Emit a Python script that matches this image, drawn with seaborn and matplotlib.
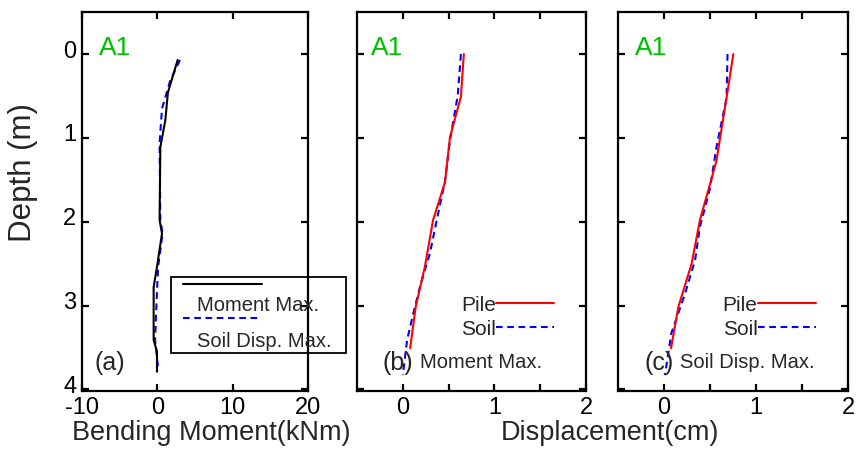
import numpy as np
import pandas as pd
import matplotlib
matplotlib.use("Agg")
import matplotlib.pyplot as plt
import matplotlib.transforms as mtransforms
import seaborn as sns
from matplotlib import font_manager
from matplotlib.lines import Line2D
from matplotlib.patches import Rectangle

# ---------------- data ----------------
# Panel (a): bending moment profiles (kNm) vs depth (m)
moment_depth = [0.07, 0.46, 0.79, 1.11, 1.98, 2.14, 2.54, 2.78, 3.41, 3.55, 3.79]
moment_at_moment_max = [2.7, 1.4, 1.06, 0.4, 0.3, 0.62, -0.05, -0.49, -0.49, -0.05, -0.05]
soil_depth_a = [0.07, 0.32, 0.65, 1.06, 1.98, 2.14, 2.54, 3.06, 3.41, 3.78]
moment_at_soil_max = [3.0, 1.7, 0.62, 0.3, 0.4, 0.7, 0.1, -0.15, -0.3, 0.15]

# Panel (b): displacement (cm) at moment max
pile_depth_b = [0.0, 0.51, 0.99, 1.53, 1.98, 2.54, 3.02, 3.51]
pile_disp_b = [0.666, 0.634, 0.515, 0.46, 0.33, 0.24, 0.14, 0.08]
soil_depth_b = [0.0, 0.49, 1.03, 1.52, 1.90, 2.38, 2.78, 3.10, 3.41, 3.83]
soil_disp_b = [0.634, 0.60, 0.515, 0.46, 0.386, 0.295, 0.186, 0.113, 0.047, 0.0]

# Panel (c): displacement (cm) at soil displacement max
pile_depth_c = [0.0, 0.52, 1.27, 1.55, 1.98, 2.50, 3.02, 3.51]
pile_disp_c = [0.753, 0.68, 0.57, 0.50, 0.39, 0.30, 0.155, 0.076]
soil_depth_c = [0.0, 0.52, 1.11, 1.60, 1.83, 2.06, 2.46, 2.86, 3.33, 3.83]
soil_disp_c = [0.69, 0.68, 0.57, 0.50, 0.446, 0.39, 0.337, 0.228, 0.08, 0.01]

depth_ticks = [0, 1, 2, 3, 4]
moment_ticks = [-10, 0, 10, 20]
disp_ticks = [0, 0.5, 1, 1.5, 2]
disp_ticklabels = ["0", "", "1", "", "2"]
panel_tags = ["(a)", "(b)", "(c)"]
panel_notes = ["", "Moment Max.", "Soil Disp. Max."]
case_label = "A1"

# ---------------- fonts ----------------
names = {f.name for f in font_manager.fontManager.ttflist}
sans = "Liberation Sans" if "Liberation Sans" in names else "DejaVu Sans"

sns.set_theme(style="white")
plt.rcParams["font.family"] = [sans, "DejaVu Sans"]
plt.rcParams["axes.linewidth"] = 1.6
plt.rcParams["axes.edgecolor"] = "black"

fig = plt.figure(figsize=(8.56, 4.51), dpi=100)
bottom, height = 0.133, 0.840
ax_a = fig.add_axes([0.0958, bottom, 0.264, height])
ax_b = fig.add_axes([0.4171, bottom, 0.2675, height])
ax_c = fig.add_axes([0.7220, bottom, 0.2687, height])

green = "#00c000"
blue = "#0000ff"
red = "#ff0000"
dash = (0, (3.2, 2.2))
lw = 1.5

# panel a
sns.lineplot(x=moment_at_soil_max, y=soil_depth_a, sort=False, estimator=None,
             ax=ax_a, color=blue, lw=lw, linestyle=dash)
sns.lineplot(x=moment_at_moment_max, y=moment_depth, sort=False, estimator=None,
             ax=ax_a, color="black", lw=lw)

# panel b
sns.lineplot(x=soil_disp_b, y=soil_depth_b, sort=False, estimator=None,
             ax=ax_b, color=blue, lw=lw, linestyle=dash)
sns.lineplot(x=pile_disp_b, y=pile_depth_b, sort=False, estimator=None,
             ax=ax_b, color=red, lw=lw)

# panel c
sns.lineplot(x=soil_disp_c, y=soil_depth_c, sort=False, estimator=None,
             ax=ax_c, color=blue, lw=lw, linestyle=dash)
sns.lineplot(x=pile_disp_c, y=pile_depth_c, sort=False, estimator=None,
             ax=ax_c, color=red, lw=lw)

tick_size = 17

for i, ax in enumerate([ax_a, ax_b, ax_c]):
    ax.set_ylim(4.02, -0.5)
    ax.set_yticks(depth_ticks)
    ax.tick_params(axis="both", which="both", direction="in", length=5, width=1.6,
                   top=True, right=True, left=True, bottom=True, pad=4, colors="black",
                   labelsize=tick_size)
    for s in ax.spines.values():
        s.set_visible(True)
        s.set_color("black")
        s.set_linewidth(1.6)
    ax.set_xlabel("")
    ax.set_ylabel("")
    ax.text([0.075, 0.06, 0.072][i], 0.905, case_label, transform=ax.transAxes,
            color=green, fontsize=19, va="center", ha="left")

ax_a.set_xlim(-10, 20)
ax_a.set_xticks(moment_ticks)
ax_a.set_xticklabels([str(t) for t in moment_ticks])
ax_a.set_yticklabels([str(t) for t in depth_ticks])
# lift depth labels slightly, as in the reference
offset = mtransforms.ScaledTranslation(0, 5 / 100, fig.dpi_scale_trans)
for lab in ax_a.get_yticklabels():
    lab.set_transform(lab.get_transform() + offset)

for ax in [ax_b, ax_c]:
    ax.set_xlim(-0.5, 2)
    ax.set_xticks(disp_ticks)
    ax.set_xticklabels(disp_ticklabels)
    ax.set_yticklabels([])

note_size = 14.5
ax_a.text(0.055, 0.074, panel_tags[0], transform=ax_a.transAxes, fontsize=18, va="center")
ax_b.text(0.11, 0.074, panel_tags[1], transform=ax_b.transAxes, fontsize=18, va="center")
ax_b.text(0.275, 0.074, panel_notes[1], transform=ax_b.transAxes, fontsize=note_size, va="center")
ax_c.text(0.115, 0.074, panel_tags[2], transform=ax_c.transAxes, fontsize=18, va="center")
ax_c.text(0.27, 0.074, panel_notes[2], transform=ax_c.transAxes, fontsize=note_size, va="center")

# legends for b and c
for ax in [ax_b, ax_c]:
    handles = [Line2D([], [], color=red, lw=lw),
               Line2D([], [], color=blue, lw=lw, linestyle=dash)]
    ax.legend(handles, ["Pile", "Soil"], loc="center left", bbox_to_anchor=(0.455, 0.195),
              markerfirst=False, frameon=False, handletextpad=0.0, handlelength=2.8,
              labelspacing=0.25, fontsize=15, borderpad=0, borderaxespad=0)

# boxed legend for panel a
ax_a.add_patch(Rectangle((0.394, 0.10), 0.774, 0.20, transform=ax_a.transAxes,
                         fill=False, edgecolor="black", lw=1.3, clip_on=False, zorder=5))
ax_a.plot([0.445, 0.795], [0.282, 0.282], transform=ax_a.transAxes, color="black",
          lw=lw, clip_on=False)
ax_a.plot([0.445, 0.79], [0.192, 0.192], transform=ax_a.transAxes, color=blue,
          lw=lw, linestyle=dash, clip_on=False)
ax_a.text(0.509, 0.227, "Moment Max.", transform=ax_a.transAxes, fontsize=note_size, va="center")
ax_a.text(0.509, 0.130, "Soil Disp. Max.", transform=ax_a.transAxes, fontsize=note_size, va="center")

# axis labels
fig.text(0.027, 0.617, "Depth (m)", rotation=90, fontsize=22.5, va="center", ha="center")
fig.text(0.247, 0.04, "Bending Moment(kNm)", ha="center", va="center", fontsize=19.5)
fig.text(0.713, 0.04, "Displacement(cm)", ha="center", va="center", fontsize=19.5)

fig.savefig("out.png", dpi=100)
